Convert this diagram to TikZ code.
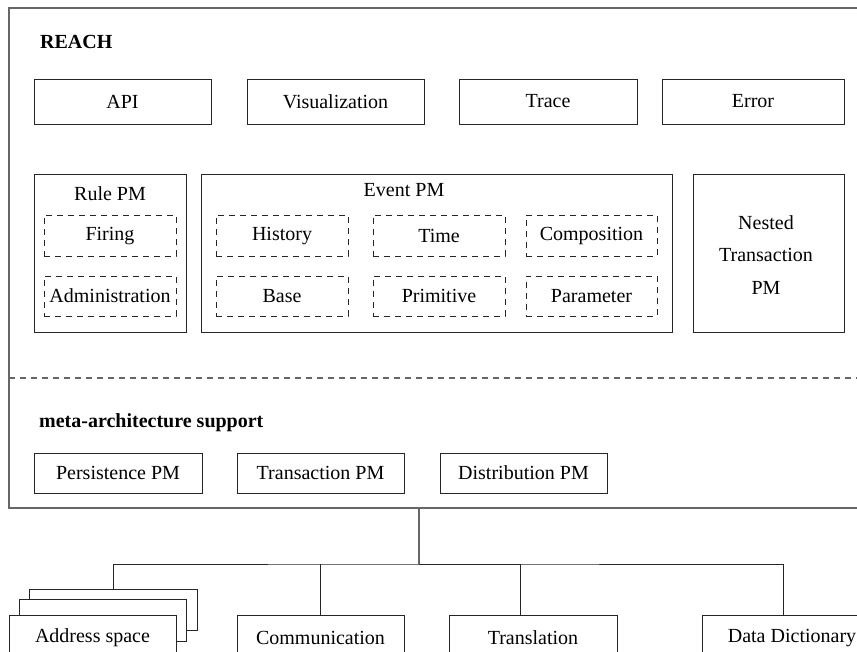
\documentclass[tikz,border=0pt]{standalone}
\usepackage{fontspec}
\setmainfont{Liberation Serif}
\begin{document}
\begin{tikzpicture}[x=1pt,y=-1pt,
  every node/.style={font=\fontsize{20}{24}\selectfont, inner sep=0pt},
  box/.style={draw=black!85, line width=0.9pt, minimum height=45pt},
  sub/.style={draw=black!85, line width=0.9pt, dash pattern=on 6pt off 5pt,
              minimum width=132pt, minimum height=41pt},
  frame/.style={draw=black!60, line width=1.3pt},
  wire/.style={draw=black!85, line width=0.9pt},
  heading/.style={font=\fontsize{20}{24}\selectfont\bfseries, anchor=base west}]
\useasboundingbox (0,0) rectangle (857,652);
\clip (0,0) rectangle (857,652);

% REACH frame and the divider towards the meta-architecture layer
\draw[frame] (880,8) -- (9,8) -- (9,508) -- (880,508);
\draw[frame, dash pattern=on 6pt off 5pt] (9,378) -- (880,378);
\node[heading] (reach) at (40,48.5) {REACH};

% top row of services
\node[box, minimum width=177pt] (api)   at (122.5,101.5) {API};
\node[box, minimum width=177pt] (vis)   at (335.5,101.5) {Visualization};
\node[box, minimum width=178pt] (trace) at (548,101.5)   {Trace};
\node[box, minimum width=182pt] (err)   at (753,101.5)   {Error};

% Rule PM
\node[box, minimum width=152pt, minimum height=158pt] (rule) at (110,253) {};
\node (ruleT) at (110,194) {Rule PM};
\node[sub] (fire)  at (110,236) {Firing};
\node[sub, minimum height=40pt] (admin) at (110,296) {Administration};

% Event PM
\node[box, minimum width=471pt, minimum height=158pt] (event) at (436.5,253) {};
\node (eventT) at (404,190) {Event PM};
\node[sub] (hist)  at (282,236)   {History};
\node[sub] (time)  at (439,236)   {Time};
\node[sub, minimum width=131pt] (comp) at (591.5,236) {Composition};
\node[sub, minimum height=40pt] (base)  at (282,296)   {Base};
\node[sub, minimum height=40pt] (prim)  at (439,296)   {Primitive};
\node[sub, minimum width=131pt, minimum height=40pt] (param) at (591.5,296) {Parameter};

% Nested transaction PM
\node[box, minimum width=151pt, minimum height=158pt] (nested) at (768.5,253) {};
\node[font=\fontsize{20}{32.5}\selectfont, align=center] (nestedT) at (766,255)
  {Nested\\Transaction\\PM};

% meta-architecture support
\node[heading] (meta) at (39,427) {meta-architecture support};
\node[box, minimum width=168pt, minimum height=40pt] (pers)  at (118,473)   {Persistence PM};
\node[box, minimum width=167pt, minimum height=40pt] (trans) at (320.5,473) {Transaction PM};
\node[box, minimum width=167pt, minimum height=40pt] (dist)  at (523.5,473) {Distribution PM};

% underlying services
\node[box, fill=white, minimum width=168pt, minimum height=41pt] (addrBack) at (113,609.5) {};
\node[box, fill=white, minimum width=167pt, minimum height=42pt] (addrMid)  at (102.5,620) {};
\node[box, fill=white, minimum width=167pt, minimum height=46pt] (addr)     at (92.5,638) {Address space};
\node[box, minimum width=167pt, minimum height=46pt] (comm) at (320.5,638) {Communication};
\node[box, minimum width=168pt, minimum height=46pt] (tran) at (533,638)   {Translation};
\node[box, minimum width=180pt, minimum height=46pt] (dd)   at (792,638)   {Data Dictionary};

% connection bus
\coordinate (busTop) at (419,508);
\coordinate (hub) at (419,564);
\draw[wire, draw=black!60, line width=1.1pt] (busTop) -- (hub);
\draw[wire] (addrBack.north) |- (hub) -| ([xshift=-9pt]dd.north);
\draw[wire] (comm.north) -- (comm.north |- hub);
\draw[wire] ([xshift=-13pt]tran.north) |- (hub);
\end{tikzpicture}
\end{document}
